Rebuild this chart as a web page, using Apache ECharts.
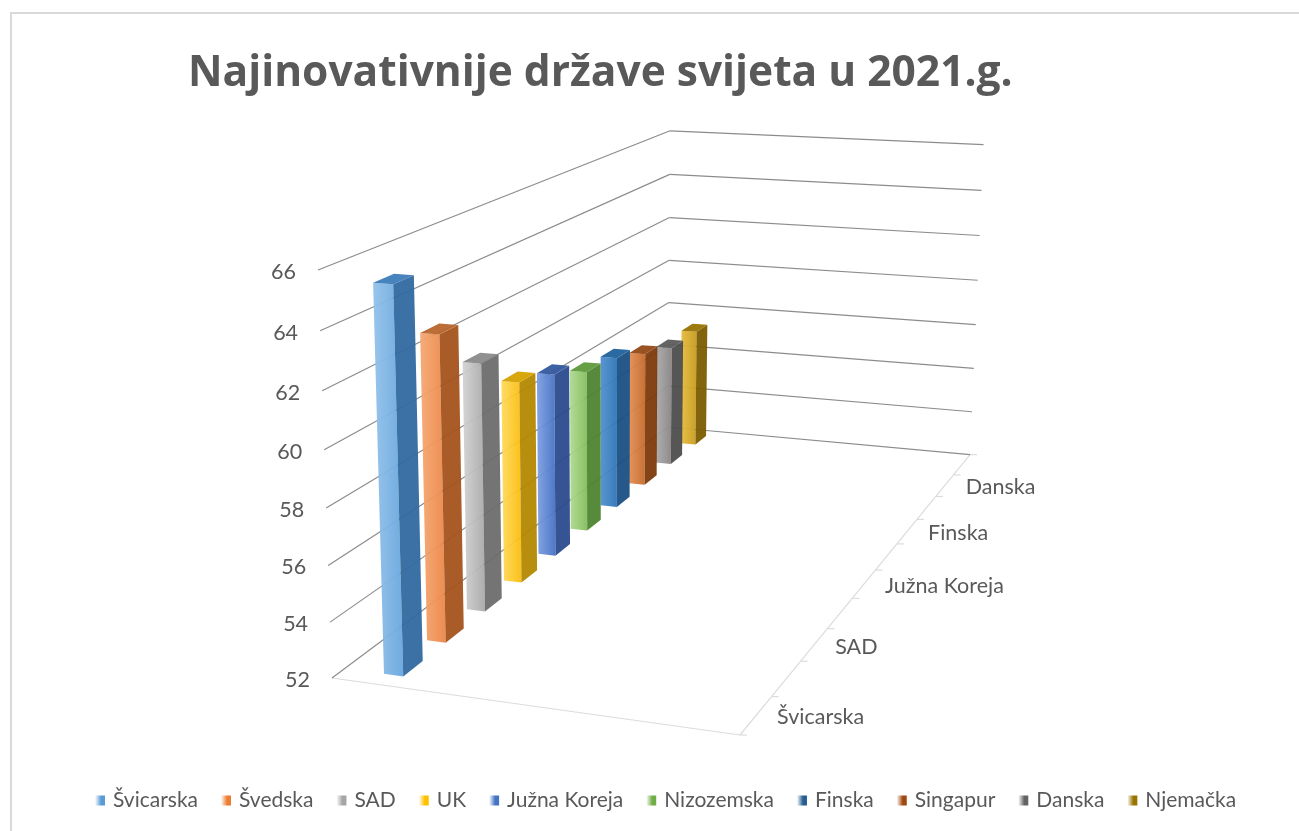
<!DOCTYPE html>
<html>
<head>
<meta charset="utf-8">
<title>Najinovativnije države svijeta</title>
<style>
html, body { margin: 0; padding: 0; background: #fff; }
#chart { width: 1299px; height: 831px; }
</style>
<script src="https://cdn.jsdelivr.net/npm/echarts@6/dist/echarts.min.js"></script>
</head>
<body>
<div id="chart"></div>
<script>
var countries = ['Švicarska', 'Švedska', 'SAD', 'UK', 'Južna Koreja', 'Nizozemska', 'Finska', 'Singapur', 'Danska', 'Njemačka'];
var scores = [65.5, 63.1, 61.3, 59.8, 59.3, 58.6, 58.4, 57.8, 57.3, 57.3];
var valueTicks = [52, 54, 56, 58, 60, 62, 64, 66];

var legendColors = ['#5b9bd5', '#ed7d31', '#a5a5a5', '#ffc000', '#4472c4', '#70ad47', '#255e91', '#9e480e', '#636363', '#997300'];
var frontLight = ['#93c2ea', '#f5a873', '#d2d2d2', '#ffd95c', '#7f9fe2', '#aeda90', '#4f90cf', '#e38e55', '#ababab', '#e6bd40'];
var frontDark = ['#67a6de', '#ec8646', '#a9a9a9', '#fbbd0c', '#4472c4', '#84bd5c', '#2e75b6', '#c4692a', '#8a8484', '#c79a1b'];
var sideColors = ['#30699f', '#a4531b', '#6d6d6d', '#b38800', '#2b4b8e', '#4f8430', '#1a5083', '#7d3a0c', '#4d4d4d', '#7a5c00'];
var topColors = ['#3d7cb8', '#b8662d', '#8a8a8a', '#d6a200', '#34599f', '#5f9a3d', '#20629c', '#944a16', '#5c5c5c', '#977300'];

// corners of the 3d box on the page, x = width, y = value, z = depth
var boxOrigin = [332, 678];
var boxRight = [740, 735];
var boxUp = [318, 270];
var boxBack = [668, 427];
var persp = [-0.065, -0.048, 0.40];

var barLeft = 0.103, barRight = 0.153, barDepth = 0.45;
var textColor = '#595959';
var gridColor = '#8c8c8c';
var floorColor = '#dcdcdc';
var labelFont = '21.5px Lato';

function project(x, y, z) {
    var w = 1 + persp[0] * x + persp[1] * y + persp[2] * z;
    var p = [0, 1].map(function (k) {
        var o = boxOrigin[k];
        return (o + x * (boxRight[k] * (1 + persp[0]) - o)
            + y * (boxUp[k] * (1 + persp[1]) - o)
            + z * (boxBack[k] * (1 + persp[2]) - o)) / w;
    });
    return p;
}

// the hidden grid works as a unit square: category -> depth, value -> height
function toUnit(params, api, cat, val) {
    var cs = params.coordSys;
    var pt = api.coord([cat, val]);
    return [(pt[0] - cs.x) / cs.width, 1 - (pt[1] - cs.y) / cs.height];
}

function poly(points, fill) {
    return { type: 'polygon', shape: { points: points }, style: { fill: fill, opacity: 0.95 } };
}

function line(a, b, color) {
    return { type: 'line', shape: { x1: a[0], y1: a[1], x2: b[0], y2: b[1] }, style: { stroke: color, lineWidth: 1.2 } };
}

function renderBar(params, api) {
    var i = api.value(0);
    var center = toUnit(params, api, i, api.value(1));
    var base = toUnit(params, api, i, valueTicks[0]);
    var half = api.size([1, 0])[0] / params.coordSys.width * barDepth / 2;
    var z0 = center[0] - half, z1 = center[0] + half;
    var top = center[1], low = base[1];
    return {
        type: 'group',
        children: [
            poly([project(barLeft, low, z0), project(barRight, low, z0), project(barRight, top, z0), project(barLeft, top, z0)], {
                type: 'linear', x: 0, y: 0, x2: 1, y2: 0,
                colorStops: [{ offset: 0, color: frontLight[i] }, { offset: 1, color: frontDark[i] }]
            }),
            poly([project(barRight, low, z0), project(barRight, low, z1), project(barRight, top, z1), project(barRight, top, z0)], sideColors[i]),
            poly([project(barLeft, top, z0), project(barRight, top, z0), project(barRight, top, z1), project(barLeft, top, z1)], topColors[i])
        ]
    };
}

function renderGridline(params, api) {
    var val = api.value(1);
    var y = toUnit(params, api, 0, val)[1];
    var start = project(0, y, 0);
    return {
        type: 'group',
        children: [
            line(start, project(0, y, 1), gridColor),
            line(project(0, y, 1), project(1, y, 1), gridColor),
            {
                type: 'text',
                style: { x: start[0] - 22, y: start[1] + 2, text: String(val), fill: textColor, font: labelFont, align: 'right', verticalAlign: 'middle' }
            }
        ]
    };
}

function renderDepthTick(params, api) {
    var i = api.value(0);
    var zc = toUnit(params, api, i, valueTicks[0])[0];
    var half = api.size([1, 0])[0] / params.coordSys.width / 2;
    var edge = project(1, 0, zc - half);
    var children = [
        line(edge, project(1, 0, zc + half), floorColor),
        line(edge, [edge[0] + 7, edge[1]], floorColor)
    ];
    if (i % 2 === 0) {
        var mid = project(1, 0, zc);
        children.push({
            type: 'text',
            style: { x: mid[0] + 21, y: mid[1] + 2, text: countries[i], fill: textColor, font: labelFont, align: 'left', verticalAlign: 'middle' }
        });
    }
    if (i === countries.length - 1) {
        var last = project(1, 0, zc + half);
        children.push(line(last, [last[0] + 7, last[1]], floorColor));
    }
    return { type: 'group', children: children };
}

function renderFloorFront() {
    return line(project(0, 0, 0), project(1, 0, 0), floorColor);
}

var series = [
    { type: 'custom', name: 'floor', silent: true, z: 1, renderItem: renderFloorFront, data: [[0, valueTicks[0]]] },
    {
        type: 'custom', name: 'depth', silent: true, z: 1, renderItem: renderDepthTick,
        data: countries.map(function (c, i) { return [i, valueTicks[0]]; })
    },
    {
        type: 'custom', name: 'grid', silent: true, z: 1, renderItem: renderGridline,
        data: valueTicks.map(function (v) { return [0, v]; })
    }
];

countries.forEach(function (name, i) {
    series.push({
        type: 'custom',
        name: name,
        silent: true,
        z: 30 - i,
        renderItem: renderBar,
        itemStyle: {
            color: {
                type: 'linear', x: 0, y: 0, x2: 1, y2: 0,
                colorStops: [{ offset: 0, color: '#ffffff' }, { offset: 0.6, color: legendColors[i] }, { offset: 1, color: legendColors[i] }]
            }
        },
        data: [[i, scores[i]]]
    });
});

var myChart = echarts.init(document.getElementById('chart'));
myChart.setOption({
    animation: false,
    backgroundColor: '#fff',
    title: {
        text: 'Najinovativnije države svijeta u 2021.g.',
        left: 188,
        top: 52,
        padding: 0,
        textStyle: { fontFamily: 'Open Sans', fontWeight: 'bold', fontSize: 42.5, color: textColor }
    },
    legend: {
        data: countries,
        left: 95,
        top: 790,
        width: 1190,
        padding: 0,
        itemWidth: 10,
        itemHeight: 10,
        itemGap: 23,
        icon: 'rect',
        selectedMode: false,
        textStyle: { fontFamily: 'Lato', fontSize: 21, color: textColor, padding: [0, 0, 0, 3] }
    },
    grid: { left: 0, top: 0, width: 800, height: 800 },
    xAxis: { type: 'category', show: false, data: countries },
    yAxis: { type: 'value', show: false, min: valueTicks[0], max: valueTicks[valueTicks.length - 1], interval: 2 },
    graphic: [{
        type: 'polyline',
        silent: true,
        shape: { points: [[11, 831], [11, 13], [1299, 13]] },
        style: { stroke: '#d9d9d9', lineWidth: 2, fill: null }
    }],
    series: series
});
</script>
</body>
</html>
